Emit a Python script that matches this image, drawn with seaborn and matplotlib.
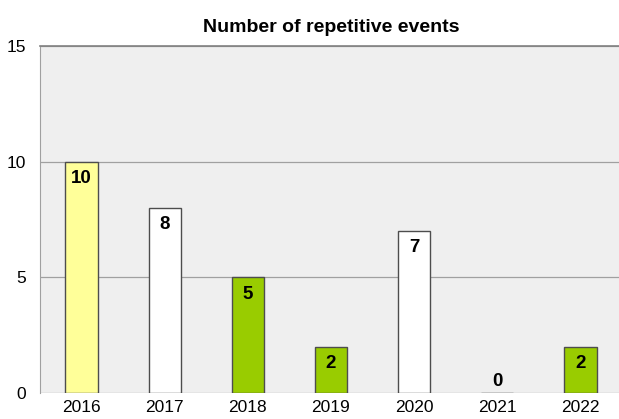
import seaborn as sns
import matplotlib.pyplot as plt

years = ["2016", "2017", "2018", "2019", "2020", "2021", "2022"]
events = [10, 8, 5, 2, 7, 0, 2]
bar_colors = ["#ffff99", "#ffffff", "#99cc00", "#99cc00", "#ffffff", "#ffffff", "#99cc00"]

sns.set_style("white")
plt.rcParams["font.family"] = ["Liberation Sans", "DejaVu Sans"]
plt.rcParams["text.color"] = "black"
plt.rcParams["xtick.color"] = "black"
plt.rcParams["ytick.color"] = "black"

fig = plt.figure(figsize=(6.19, 4.19), dpi=100)
ax = fig.add_axes([40 / 619, 26 / 419, 582 / 619, 347 / 419])
ax.set_facecolor("#efefef")

sns.barplot(x=years, y=events, hue=years, palette=bar_colors, legend=False,
            saturation=1, width=0.39, edgecolor="#4d4d4d", linewidth=1.0,
            ax=ax, zorder=3)

ax.set_ylim(0, 15)
ax.set_xlim(-0.5, 6.5)
ax.set_yticks([0, 5, 10, 15])
ax.yaxis.grid(True, color="#a0a0a0", linewidth=0.9, zorder=0)
ax.set_axisbelow(True)

for s in ["right", "bottom"]:
    ax.spines[s].set_visible(False)
ax.spines["left"].set_color("#a0a0a0")
ax.spines["top"].set_color("#808080")
ax.spines["top"].set_linewidth(1.2)

ax.tick_params(axis="y", length=6, color="#a0a0a0", labelsize=12.5, pad=4)
ax.tick_params(axis="x", length=0, labelsize=12.5, pad=5)

for i, v in enumerate(events):
    off = -12 if v > 0 else 8
    ax.annotate(str(v), (i, v), xytext=(0, off), textcoords="offset points",
                ha="center", va="center", fontsize=13.5, fontweight="bold", zorder=4)

ax.set_title("Number of repetitive events", fontsize=14, fontweight="bold", pad=10)

fig.savefig("out.png", dpi=100)
